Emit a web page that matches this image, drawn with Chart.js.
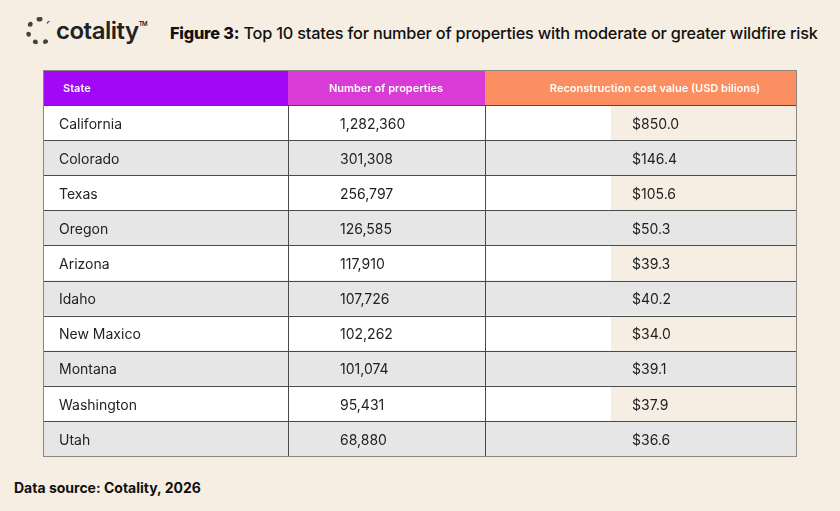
<!DOCTYPE html>
<html>
<head>
<meta charset="utf-8">
<script src="https://cdn.jsdelivr.net/npm/chart.js@4"></script>
<style>
  body { margin:0; background:#f6eee2; width:840px; height:511px; position:relative; overflow:hidden; font-family:Inter, "Noto Sans", sans-serif; }
  #logo { position:absolute; left:26px; top:16px; font:600 24px Inter, sans-serif; color:#222; letter-spacing:-0.5px; }
  #logo span.c { display:inline-block; width:28px; height:28px; border:5px dotted #444; border-radius:50%; border-right-color:transparent; box-sizing:border-box; vertical-align:-6px; margin-right:2px; }
  #logo sup { font-size:6px; vertical-align:13px; }
  #title { position:absolute; left:170px; top:23px; font:500 16.3px Inter, sans-serif; color:#111; letter-spacing:-0.2px; }
  #title b { font-weight:800; }
  #src { position:absolute; left:14px; top:479px; font:700 14px Inter, sans-serif; color:#111; }
  #wrap { position:absolute; left:0; top:0; width:840px; height:511px; }
</style>
</head>
<body>
<div id="logo"><span class="c"></span>cotality<sup>TM</sup></div>
<div id="title"><b>Figure 3:</b> Top 10 states for number of properties with moderate or greater wildfire risk</div>
<div id="src">Data source: Cotality, 2026</div>
<div id="wrap"><canvas id="c"></canvas></div>
<script>
// table data
const headers = ['State', 'Number of properties', 'Reconstruction cost value (USD bilions)'];
const states = ['California','Colorado','Texas','Oregon','Arizona','Idaho','New Maxico','Montana','Washington','Utah'];
const properties = ['1,282,360','301,308','256,797','126,585','117,910','107,726','102,262','101,074','95,431','68,880'];
const costs = ['$850.0','$146.4','$105.6','$50.3','$39.3','$40.2','$34.0','$39.1','$37.9','$36.6'];

// column edges in x-scale units (table width 754)
const colEdges = [0, 245, 442, 754];
const creamFrom = 568;
const headerColors = ['#a208f5', '#d93bd6', '#fc8f62'];

const rows = ['header'].concat(states);

const tablePlugin = {
  id: 'table',
  afterDraw(chart) {
    const ctx = chart.ctx, xs = chart.scales.x, ys = chart.scales.y;
    const X = v => xs.getPixelForValue(v);
    const half = (ys.getPixelForValue(1) - ys.getPixelForValue(0)) / 2;
    ctx.save();
    rows.forEach((r, i) => {
      const cy = ys.getPixelForValue(i), top = cy - half, h = half * 2;
      if (i === 0) {
        for (let c = 0; c < 3; c++) {
          ctx.fillStyle = headerColors[c];
          ctx.fillRect(X(colEdges[c]), top, X(colEdges[c + 1]) - X(colEdges[c]), h);
        }
        ctx.fillStyle = '#fff';
        ctx.font = '600 11px Inter, sans-serif';
        ctx.textBaseline = 'middle';
        ctx.textAlign = 'left';
        ctx.fillText(headers[0], X(20), cy + 1);
        ctx.textAlign = 'center';
        ctx.fillText(headers[1], X(343), cy + 1);
        ctx.fillText(headers[2], X(612), cy + 1);
        return;
      }
      const odd = i % 2 === 1;
      ctx.fillStyle = odd ? '#ffffff' : '#e6e6e6';
      ctx.fillRect(X(0), top, X(754) - X(0), h);
      if (odd) {
        ctx.fillStyle = '#f6eee2';
        ctx.fillRect(X(creamFrom), top, X(754) - X(creamFrom), h);
      }
      ctx.fillStyle = '#222';
      ctx.font = '14px Inter, sans-serif';
      ctx.textBaseline = 'middle';
      ctx.textAlign = 'left';
      ctx.fillText(states[i - 1], X(16), cy + 2);
      ctx.fillText(properties[i - 1], X(297), cy + 2);
      ctx.fillText(costs[i - 1], X(589), cy + 2);
      // row line
      ctx.strokeStyle = '#4a4a4a';
      ctx.lineWidth = 1;
      ctx.beginPath();
      ctx.moveTo(X(0), Math.round(top) + 0.5);
      ctx.lineTo(X(754), Math.round(top) + 0.5);
      ctx.stroke();
    });
    // column lines and outer border
    const t = ys.getPixelForValue(1) - half, b = ys.getPixelForValue(rows.length - 1) + half;
    ctx.strokeStyle = '#4a4a4a';
    ctx.beginPath();
    [colEdges[1], colEdges[2]].forEach(e => {
      ctx.moveTo(Math.round(X(e)) + 0.5, t);
      ctx.lineTo(Math.round(X(e)) + 0.5, b);
    });
    ctx.moveTo(X(0), Math.round(b) + 0.5);
    ctx.lineTo(X(754), Math.round(b) + 0.5);
    ctx.stroke();
    ctx.strokeStyle = '#8a8580';
    ctx.strokeRect(Math.round(X(0)) + 0.5, Math.round(t - half * 2) + 0.5, X(754) - X(0) - 1, b - t + half * 2);
    ctx.restore();
  }
};

new Chart(document.getElementById('c'), {
  type: 'bar',
  data: { labels: rows, datasets: [{ data: rows.map(() => null) }] },
  options: {
    indexAxis: 'y',
    responsive: true,
    maintainAspectRatio: false,
    animation: false,
    layout: { padding: { left: 43, right: 43, top: 70, bottom: 55 } },
    plugins: { legend: { display: false }, tooltip: { enabled: false } },
    scales: {
      x: { type: 'linear', min: 0, max: 754, display: false },
      y: { type: 'category', display: false, offset: true }
    }
  },
  plugins: [tablePlugin]
});
</script>
</body>
</html>
